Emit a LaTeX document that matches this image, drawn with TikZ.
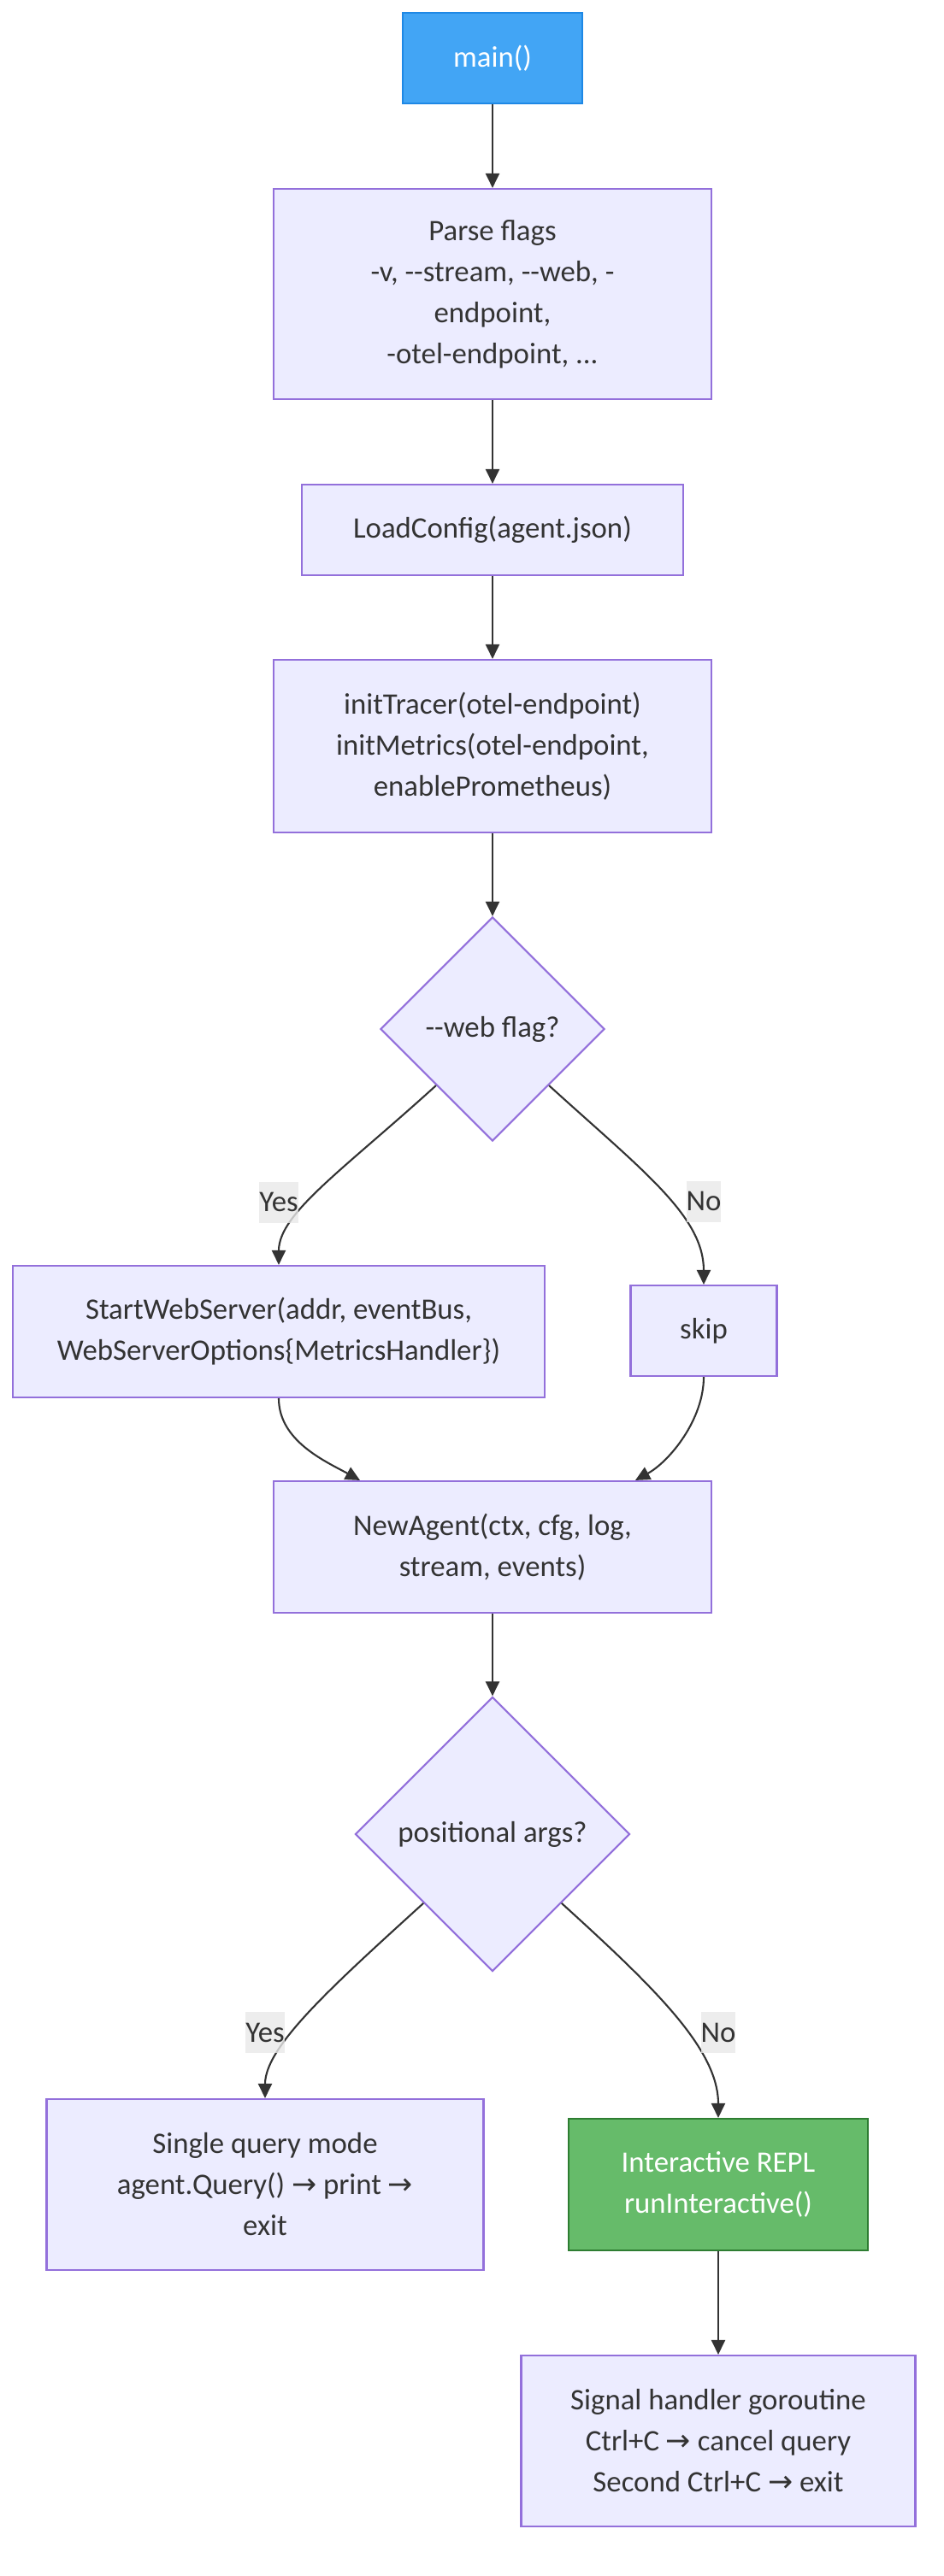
\documentclass[tikz,border=0pt]{standalone}
\usepackage{fontspec}
\setmainfont{Carlito}[Ligatures=TeXOff]
\newfontfamily\symfont{DejaVu Sans}
\newcommand{\toarrow}{{\symfont →}}
\usetikzlibrary{arrows.meta,shapes.geometric}
\definecolor{nodefill}{HTML}{ECECFF}
\definecolor{nodeline}{HTML}{9370DB}
\definecolor{edgeline}{HTML}{333333}
\definecolor{mainfill}{HTML}{42A5F5}
\definecolor{mainline}{HTML}{1E88E5}
\definecolor{replfill}{HTML}{66BB6A}
\definecolor{replline}{HTML}{2E7D32}
\definecolor{lblfill}{HTML}{E8E8E8}

\begin{document}
\begin{tikzpicture}[box/.style={draw=nodeline, fill=nodefill, line width=0.6pt, align=center, inner sep=0pt, text=edgeline},
    decision/.style={box, diamond, aspect=1},
    lbl/.style={fill=lblfill, fill opacity=0.8, text opacity=1, text=edgeline, inner xsep=0pt, inner ysep=0pt, minimum height=0.48cm},
    link/.style={->, draw=edgeline, line width=0.6pt},
    >={Triangle[length=0.17cm,width=0.16cm]},
    font=\fontsize{9.9}{13.66}\selectfont]
    \useasboundingbox (-5.76,0.68) rectangle (5.28,-29.46);
    \node[box, fill=mainfill, draw=mainline, text=white, minimum width=2.10cm, minimum height=1.06cm] (main) at (0,0) {main()};
    \node[box, minimum width=5.12cm, minimum height=2.46cm] (flags) at (0,-2.76) {Parse flags\\-v, --stream, --web, -\\endpoint,\\-otel-endpoint, ...};
    \node[box, minimum width=4.46cm, minimum height=1.06cm] (config) at (0,-5.52) {LoadConfig(agent.json)};
    \node[box, minimum width=5.12cm, minimum height=2.02cm] (tracer) at (0,-8.05) {initTracer(otel-endpoint)\\initMetrics(otel-endpoint,\\enablePrometheus)};
    \node[decision, minimum width=2.62cm, minimum height=2.62cm] (web) at (0,-11.36) {--web flag?};
    \node[box, minimum width=6.22cm, minimum height=1.54cm] (server) at (-2.50,-14.90) {StartWebServer(addr, eventBus,\\WebServerOptions\{MetricsHandler\})};
    \node[box, minimum width=1.71cm, minimum height=1.06cm] (skip) at (2.47,-14.89) {skip};
    \node[box, minimum width=5.12cm, minimum height=1.54cm] (agent) at (0,-17.42) {NewAgent(ctx, cfg, log,\\stream, events)};
    \node[decision, minimum width=3.21cm, minimum height=3.21cm] (args) at (0,-20.78) {positional args?};
    \node[box, minimum width=5.11cm, minimum height=2.00cm] (single) at (-2.66,-24.88) {Single query mode\\agent.Query() \toarrow{} print \toarrow\\exit};
    \node[box, fill=replfill, draw=replline, text=white, minimum width=3.50cm, minimum height=1.54cm] (repl) at (2.64,-24.88) {Interactive REPL\\runInteractive()};
    \node[box, minimum width=4.61cm, minimum height=2.00cm] (signal) at (2.64,-27.88) {Signal handler goroutine\\Ctrl+C \toarrow{} cancel query\\Second Ctrl+C \toarrow{} exit};
    \draw[link] (main) -- (flags);
    \draw[link] (flags) -- (config);
    \draw[link] (config) -- (tracer);
    \draw[link] (tracer) -- (web);
    \draw[link] (web.south west) .. controls +(-1.10,-1.00) and +(0,0.60) .. (server.north) node[lbl] at ([yshift=0.73cm]server.north) {Yes};
    \draw[link] (web.south east) .. controls +(1.10,-1.00) and +(0,0.80) .. (skip.north) node[lbl] at ([yshift=0.97cm]skip.north) {No};
    \draw[link] (server.south) .. controls +(0,-0.50) and +(-0.40,0.22) .. ([xshift=-1.55cm]agent.north);
    \draw[link] (skip.south) .. controls +(0,-0.50) and +(0.40,0.22) .. ([xshift=1.67cm]agent.north);
    \draw[link] (agent) -- (args);
    \draw[link] (args.south west) .. controls +(-1.10,-1.00) and +(0,0.60) .. (single.north) node[lbl] at ([yshift=0.77cm]single.north) {Yes};
    \draw[link] (args.south east) .. controls +(1.10,-1.00) and +(0,0.80) .. (repl.north) node[lbl] at ([yshift=1.00cm]repl.north) {No};
    \draw[link] (repl) -- (signal);
\end{tikzpicture}
\end{document}
